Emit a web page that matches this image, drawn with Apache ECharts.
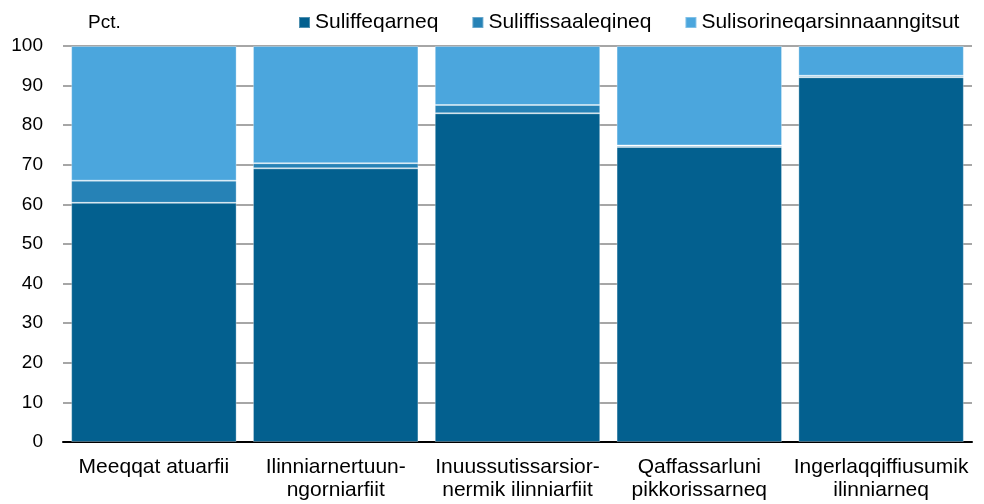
<!DOCTYPE html>
<html>
<head>
<meta charset="utf-8">
<script src="https://cdn.jsdelivr.net/npm/echarts@6/dist/echarts.min.js"></script>
<style>
  html, body { margin: 0; padding: 0; background: #fff; }
  #chart { width: 984px; height: 504px; }
</style>
</head>
<body>
<div id="chart"></div>
<script>
const categories = [
  'Meeqqat atuarfii',
  'Ilinniarnertuun-\nngorniarfiit',
  'Inuussutissarsior-\nnermik ilinniarfiit',
  'Qaffassarluni\npikkorissarneq',
  'Ingerlaqqiffiusumik\nilinniarneq'
]
const seriesNames = ['Suliffeqarneq', 'Suliffissaaleqineq', 'Sulisorineqarsinnaanngitsut']
const employed = [60.4, 69.1, 83.0, 74.5, 92.1]
const unemployed = [5.6, 1.3, 2.1, 0.4, 0.4]
const outside = [34.0, 29.6, 14.9, 25.1, 7.5]
const colors = ['#03608f', '#2682b6', '#4ba6dd']

const font = 'Liberation Sans, Arial, sans-serif'
const chart = echarts.init(document.getElementById('chart'))

const makeSeries = (name, data, color) => ({
  name: name,
  type: 'bar',
  stack: 'total',
  barWidth: '91%',
  data: data,
  itemStyle: {
    color: color,
    borderColor: 'rgba(255,255,255,0.3)',
    borderWidth: 1
  }
})

chart.setOption({
  animation: false,
  textStyle: { fontFamily: font },
  legend: {
    data: seriesNames,
    left: 298,
    top: 12,
    padding: 0,
    itemWidth: 11,
    itemHeight: 11,
    itemGap: 33,
    icon: 'rect',
    textStyle: { fontSize: 21, color: '#000', fontFamily: font }
  },
  grid: { left: 63, right: 12, top: 46, bottom: 62 },
  xAxis: {
    type: 'category',
    data: categories,
    axisLine: { lineStyle: { color: '#000', width: 2 } },
    axisTick: { show: false },
    axisLabel: { color: '#000', fontSize: 21, lineHeight: 23, margin: 14, interval: 0, fontFamily: font }
  },
  yAxis: {
    type: 'value',
    name: 'Pct.',
    nameLocation: 'end',
    nameGap: 14,
    nameTextStyle: { color: '#000', fontSize: 19, fontFamily: font, align: 'left', padding: [0, 0, 0, 25] },
    min: 0,
    max: 100,
    interval: 10,
    axisLine: { show: false },
    axisTick: { show: false },
    axisLabel: { color: '#000', fontSize: 19, margin: 20, fontFamily: font },
    splitLine: { lineStyle: { color: '#a6a6a6', width: 2 } }
  },
  series: [
    makeSeries(seriesNames[0], employed, colors[0]),
    makeSeries(seriesNames[1], unemployed, colors[1]),
    makeSeries(seriesNames[2], outside, colors[2])
  ]
})
</script>
</body>
</html>
